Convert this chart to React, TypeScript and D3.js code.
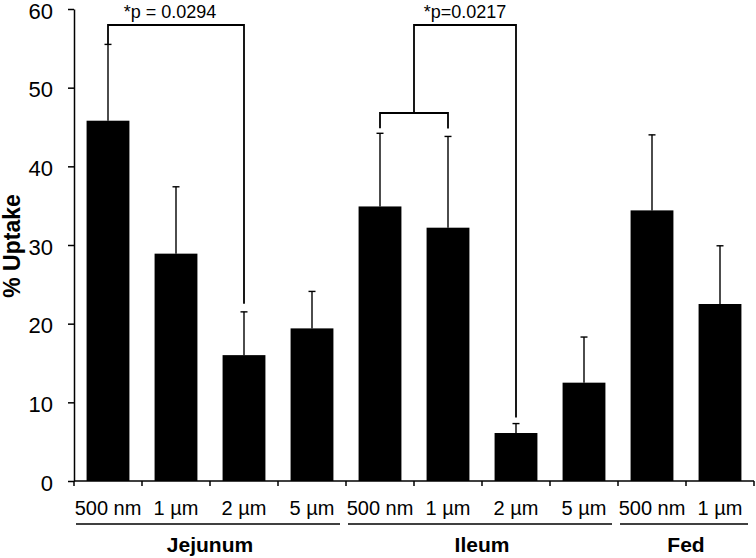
import React, { useEffect, useRef } from 'react'
import * as d3 from 'd3'

const categories = ['500 nm', '1 µm', '2 µm', '5 µm', '500 nm', '1 µm', '2 µm', '5 µm', '500 nm', '1 µm']
const uptake = [45.8, 28.9, 16.0, 19.4, 34.9, 32.2, 6.1, 12.5, 34.4, 22.5]
const errorTop = [55.5, 37.4, 21.5, 24.1, 44.2, 43.8, 7.3, 18.3, 44.0, 29.9]
const yTicks = [0, 10, 20, 30, 40, 50, 60]

const groups = [
  { name: 'Jejunum', first: 0, last: 3 },
  { name: 'Ileum', first: 4, last: 7 },
  { name: 'Fed', first: 8, last: 9 },
]

const FONT = 'Liberation Sans, Arial, Helvetica, sans-serif'

const App = () => {
  const svgRef = useRef<SVGSVGElement>(null)

  useEffect(() => {
    const svg = d3.select(svgRef.current)
    svg.selectAll('*').remove()

    const left = 74
    const right = 754
    const top = 9
    const bottom = 481

    const x = d3
      .scaleBand<number>()
      .domain(d3.range(categories.length))
      .range([left, right])
      .padding(0)
    const step = x.step()
    const barW = step * 0.63
    const cx = (i: number) => (x(i) as number) + step / 2

    const y = d3.scaleLinear().domain([0, 60]).range([bottom, top])

    // y axis
    const yAxis = svg
      .append('g')
      .attr('transform', `translate(${left},0)`)
      .call(d3.axisLeft(y).tickValues(yTicks).tickSize(6).tickPadding(15).tickSizeOuter(0))
    yAxis.select('.domain').attr('stroke', '#000').attr('stroke-width', 1.5)
    yAxis.selectAll('.tick line').attr('stroke', '#000').attr('stroke-width', 1.5)
    yAxis
      .selectAll('.tick text')
      .attr('font-family', FONT)
      .attr('font-size', 22)
      .attr('dy', '0.42em')
      .attr('fill', '#000')

    // x axis with category separators
    svg
      .append('line')
      .attr('x1', left)
      .attr('x2', right)
      .attr('y1', bottom)
      .attr('y2', bottom)
      .attr('stroke', '#000')
      .attr('stroke-width', 1.5)
    svg
      .selectAll('line.sep')
      .data(d3.range(categories.length + 1))
      .enter()
      .append('line')
      .attr('class', 'sep')
      .attr('x1', (d) => left + d * step)
      .attr('x2', (d) => left + d * step)
      .attr('y1', bottom)
      .attr('y2', bottom + 5)
      .attr('stroke', '#000')
      .attr('stroke-width', 1.5)

    // bars
    svg
      .selectAll('rect.bar')
      .data(uptake)
      .enter()
      .append('rect')
      .attr('class', 'bar')
      .attr('x', (d, i) => cx(i) - barW / 2)
      .attr('y', (d) => y(d))
      .attr('width', barW)
      .attr('height', (d) => y(0) - y(d))
      .attr('fill', '#000')

    // error bars (upper only)
    const err = svg.append('g').attr('stroke', '#000').attr('stroke-width', 1.4)
    uptake.forEach((v, i) => {
      err
        .append('line')
        .attr('x1', cx(i))
        .attr('x2', cx(i))
        .attr('y1', y(v))
        .attr('y2', y(errorTop[i]))
      err
        .append('line')
        .attr('x1', cx(i) - 3.5)
        .attr('x2', cx(i) + 3.5)
        .attr('y1', y(errorTop[i]))
        .attr('y2', y(errorTop[i]))
    })

    // category labels
    svg
      .selectAll('text.cat')
      .data(categories)
      .enter()
      .append('text')
      .attr('class', 'cat')
      .attr('x', (d, i) => cx(i))
      .attr('y', 515)
      .attr('text-anchor', 'middle')
      .attr('font-family', FONT)
      .attr('font-size', 20)
      .text((d) => d)

    // group underline + labels
    groups.forEach((g) => {
      const x0 = (x(g.first) as number) + 2
      const x1 = (x(g.last) as number) + step - 6
      svg
        .append('line')
        .attr('x1', x0)
        .attr('x2', x1)
        .attr('y1', 524)
        .attr('y2', 524)
        .attr('stroke', '#000')
        .attr('stroke-width', 1.5)
      svg
        .append('text')
        .attr('x', ((x(g.first) as number) + (x(g.last) as number) + step) / 2)
        .attr('y', 552)
        .attr('text-anchor', 'middle')
        .attr('font-family', FONT)
        .attr('font-size', 21)
        .attr('font-weight', 'bold')
        .text(g.name)
    })

    // y title
    svg
      .append('text')
      .attr('transform', `translate(20,246) rotate(-90)`)
      .attr('text-anchor', 'middle')
      .attr('font-family', FONT)
      .attr('font-size', 23)
      .attr('font-weight', 'bold')
      .text('% Uptake')

    // significance brackets
    const br = svg
      .append('g')
      .attr('fill', 'none')
      .attr('stroke', '#000')
      .attr('stroke-width', 1.8)
    const yTop = 25
    // Jejunum 500 nm vs 2 µm
    br.append('path').attr(
      'd',
      d3.line()([
        [cx(0), y(errorTop[0])],
        [cx(0), yTop],
        [cx(2), yTop],
        [cx(2), y(errorTop[2]) - 8],
      ])
    )
    // Ileum (500 nm + 1 µm) vs 2 µm
    const yMid = 113
    br.append('path').attr(
      'd',
      d3.line()([
        [cx(4), y(errorTop[4]) - 5],
        [cx(4), yMid],
        [cx(5), yMid],
        [cx(5), y(errorTop[5]) - 8],
      ])
    )
    const xJoin = x(5) as number
    br.append('path').attr(
      'd',
      d3.line()([
        [xJoin, yMid],
        [xJoin, yTop],
        [cx(6), yTop],
        [cx(6), y(errorTop[6]) - 6],
      ])
    )

    svg
      .append('text')
      .attr('x', (cx(0) + cx(2)) / 2 - 6)
      .attr('y', 18)
      .attr('text-anchor', 'middle')
      .attr('font-family', FONT)
      .attr('font-size', 18)
      .text('*p = 0.0294')
    svg
      .append('text')
      .attr('x', (xJoin + cx(6)) / 2)
      .attr('y', 18)
      .attr('text-anchor', 'middle')
      .attr('font-family', FONT)
      .attr('font-size', 18)
      .text('*p=0.0217')
  }, [])

  return (
    <svg
      ref={svgRef}
      width={756}
      height={558}
      style={{ position: 'absolute', left: 0, top: 0, background: '#fff' }}
    ></svg>
  )
}

export default App
